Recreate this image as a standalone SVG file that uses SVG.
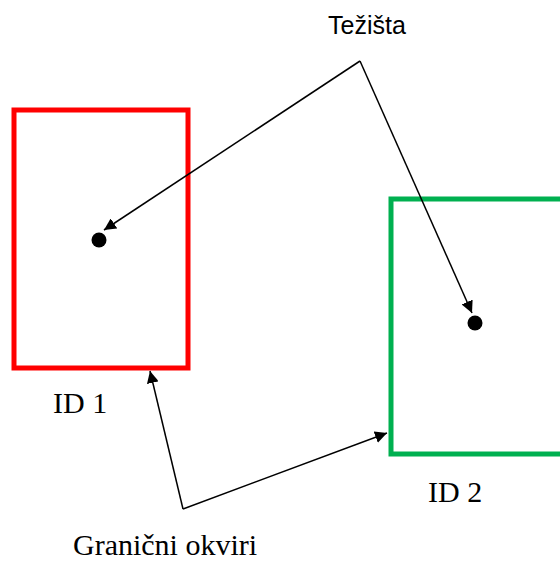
<svg xmlns="http://www.w3.org/2000/svg" width="560" height="563" viewBox="0 0 560 563">
<style>
.box{fill:none;stroke-width:5}
.conn{fill:none;stroke:#000;stroke-width:1.5}
.dot{fill:#000}
.serif{font-family:"Liberation Serif","Times New Roman",serif;font-size:30px;fill:#000}
.sans{font-family:"Liberation Sans",Arial,sans-serif;font-size:25px;fill:#000}
</style>
<defs>
<marker id="ah" viewBox="0 0 12 12" refX="12" refY="6" markerWidth="12" markerHeight="12" markerUnits="userSpaceOnUse" orient="auto">
<path d="M0,0 L12,6 L0,12 Z" fill="#000"/>
</marker>
</defs>
<rect width="560" height="563" fill="#fff"/>
<g id="box1">
<rect class="box" x="14" y="110" width="174" height="258" stroke="#ff0000"/>
<circle class="dot" cx="99" cy="240" r="7.5"/>
<text class="serif" x="53" y="413">ID 1</text>
</g>
<g id="box2">
<rect class="box" x="391" y="199" width="180" height="255" stroke="#00b050"/>
<circle class="dot" cx="475" cy="323" r="7.5"/>
<text class="serif" x="428" y="502">ID 2</text>
</g>
<g id="label-tezista">
<text class="sans" x="328" y="34">Težišta</text>
</g>
<g id="label-okviri">
<text class="serif" x="73" y="555">Granični okviri</text>
</g>
<g id="connectors">
<line class="conn" x1="360" y1="61" x2="104" y2="230" marker-end="url(#ah)"/>
<line class="conn" x1="360" y1="61" x2="472" y2="313" marker-end="url(#ah)"/>
<line class="conn" x1="183" y1="509" x2="150" y2="371" marker-end="url(#ah)"/>
<line class="conn" x1="183" y1="509" x2="387" y2="433" marker-end="url(#ah)"/>
</g>
</svg>
